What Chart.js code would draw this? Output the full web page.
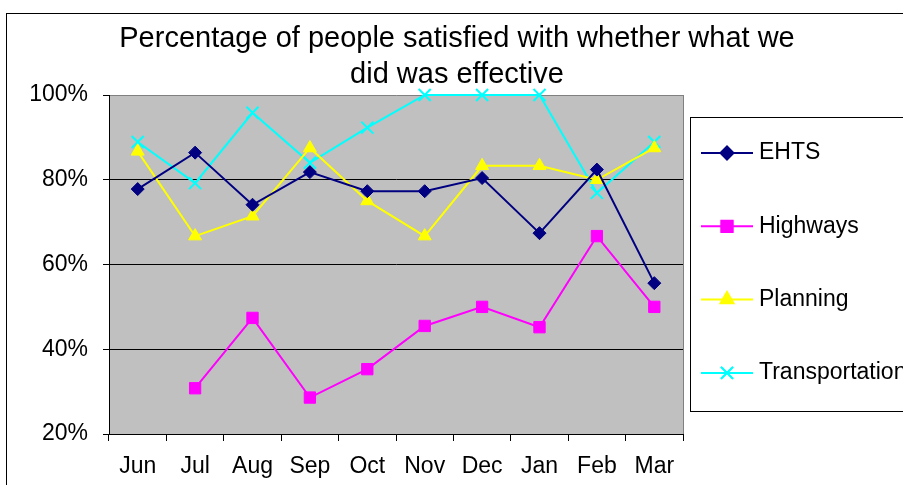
<!DOCTYPE html>
<html lang="en">
<head>
    <meta charset="UTF-8">
    <title>Satisfaction with effectiveness</title>
    <script src="https://cdn.jsdelivr.net/npm/chart.js@4.4.1/dist/chart.umd.min.js"></script>
    <style>
        body {
            margin: 0;
            background: #ffffff;
        }
        #wrap {
            width: 903px;
            height: 485px;
        }
    </style>
</head>
<body>
    <div id="wrap">
        <canvas id="satisfactionChart" width="903" height="485"></canvas>
    </div>

    <script>
        // Monthly survey results, % satisfied
        const months = ['Jun', 'Jul', 'Aug', 'Sep', 'Oct', 'Nov', 'Dec', 'Jan', 'Feb', 'Mar'];
        const ehts = [77.8, 86.4, 74.1, 81.8, 77.3, 77.3, 80.4, 67.4, 82.4, 55.6];
        const highways = [null, 30.8, 47.4, 28.6, 35.3, 45.5, 50, 45.2, 66.7, 50];
        const planning = [86.7, 66.7, 71.4, 87.5, 75, 66.7, 83.3, 83.3, 80, 87.5];
        const transportation = [88.9, 79.2, 95.8, 84.0, 92.3, 100, 100, 100, 76.9, 88.9];

        const titleLines = ['Percentage of people satisfied with whether what we', 'did was effective'];
        const FONT = '"Liberation Sans", Arial, sans-serif';

        function series(label, data, color, pointStyle, radius) {
            return {
                label: label,
                data: data,
                borderColor: color,
                backgroundColor: color,
                pointBackgroundColor: color,
                pointBorderColor: color,
                pointStyle: pointStyle,
                pointRadius: radius,
                pointHoverRadius: radius,
                pointBorderWidth: pointStyle === 'crossRot' ? 2 : 1,
                borderWidth: 2,
                tension: 0,
                spanGaps: false,
                clip: false
            };
        }

        // grey plot background, frame, title and boxed legend
        const decorations = {
            id: 'decorations',
            beforeDraw(chart) {
                const { ctx, chartArea: a } = chart;
                ctx.save();
                ctx.fillStyle = '#ffffff';
                ctx.fillRect(0, 0, chart.width, chart.height);
                ctx.fillStyle = '#c0c0c0';
                ctx.fillRect(a.left, a.top, a.right - a.left, a.bottom - a.top);
                ctx.restore();
            },
            afterDraw(chart) {
                const { ctx, chartArea: a } = chart;
                ctx.save();

                // outer chart frame
                ctx.strokeStyle = '#000000';
                ctx.lineWidth = 1;
                ctx.strokeRect(6.5, 13.5, 1000, 1000);

                // right edge of plot area
                ctx.strokeStyle = '#808080';
                ctx.beginPath();
                ctx.moveTo(Math.round(a.right) + 0.5, a.top);
                ctx.lineTo(Math.round(a.right) + 0.5, a.bottom);
                ctx.stroke();

                // title
                ctx.fillStyle = '#000000';
                ctx.font = '29px ' + FONT;
                ctx.textAlign = 'center';
                ctx.textBaseline = 'alphabetic';
                ctx.fillText(titleLines[0], 457, 47);
                ctx.fillText(titleLines[1], 457, 83);

                // legend
                ctx.strokeStyle = '#000000';
                ctx.strokeRect(690.5, 117.5, 300, 294);
                ctx.font = '23px ' + FONT;
                ctx.textAlign = 'left';
                ctx.textBaseline = 'middle';
                chart.data.datasets.forEach((ds, i) => {
                    const y = 153 + i * 73.3;
                    ctx.strokeStyle = ds.borderColor;
                    ctx.lineWidth = 2;
                    ctx.beginPath();
                    ctx.moveTo(701, y);
                    ctx.lineTo(753, y);
                    ctx.stroke();
                    Chart.helpers.drawPoint(ctx, {
                        pointStyle: ds.pointStyle,
                        radius: ds.pointRadius,
                        borderWidth: ds.pointBorderWidth,
                        rotation: 0
                    }, 727, y);
                    ctx.fillStyle = ds.pointBackgroundColor;
                    ctx.fill();
                    ctx.strokeStyle = ds.pointBorderColor;
                    ctx.lineWidth = ds.pointBorderWidth;
                    ctx.stroke();
                    ctx.fillStyle = '#000000';
                    ctx.fillText(ds.label, 759, y);
                });
                ctx.restore();
            }
        };

        new Chart(document.getElementById('satisfactionChart'), {
            type: 'line',
            data: {
                labels: months,
                datasets: [
                    series('EHTS', ehts, '#000080', 'rectRot', 6.5),
                    series('Highways', highways, '#ff00ff', 'rect', 8),
                    series('Planning', planning, '#ffff00', 'triangle', 7.5),
                    series('Transportation', transportation, '#00ffff', 'crossRot', 8.5)
                ]
            },
            options: {
                responsive: false,
                animation: false,
                events: [],
                layout: {
                    padding: { top: 95, right: 220, bottom: 0, left: 0 }
                },
                plugins: {
                    legend: { display: false },
                    title: { display: false },
                    tooltip: { enabled: false }
                },
                scales: {
                    x: {
                        offset: true,
                        grid: {
                            offset: true,
                            drawOnChartArea: false,
                            color: '#000000',
                            tickLength: 7
                        },
                        border: { color: '#000000', width: 1 },
                        ticks: {
                            color: '#000000',
                            font: { family: FONT, size: 23 },
                            padding: 12,
                            maxRotation: 0,
                            autoSkip: false
                        },
                        afterFit(scale) { scale.height = 51; }
                    },
                    y: {
                        min: 20,
                        max: 100,
                        grid: {
                            color: (c) => (c.tick && c.tick.value === 100 ? '#808080' : '#000000'),
                            tickColor: '#000000',
                            tickLength: 6
                        },
                        border: { color: '#000000', width: 1 },
                        ticks: {
                            stepSize: 20,
                            color: '#000000',
                            font: { family: FONT, size: 23 },
                            padding: 15,
                            callback: (v) => v + '%'
                        },
                        afterFit(scale) { scale.width = 109; }
                    }
                }
            },
            plugins: [decorations]
        });
    </script>
</body>
</html>
